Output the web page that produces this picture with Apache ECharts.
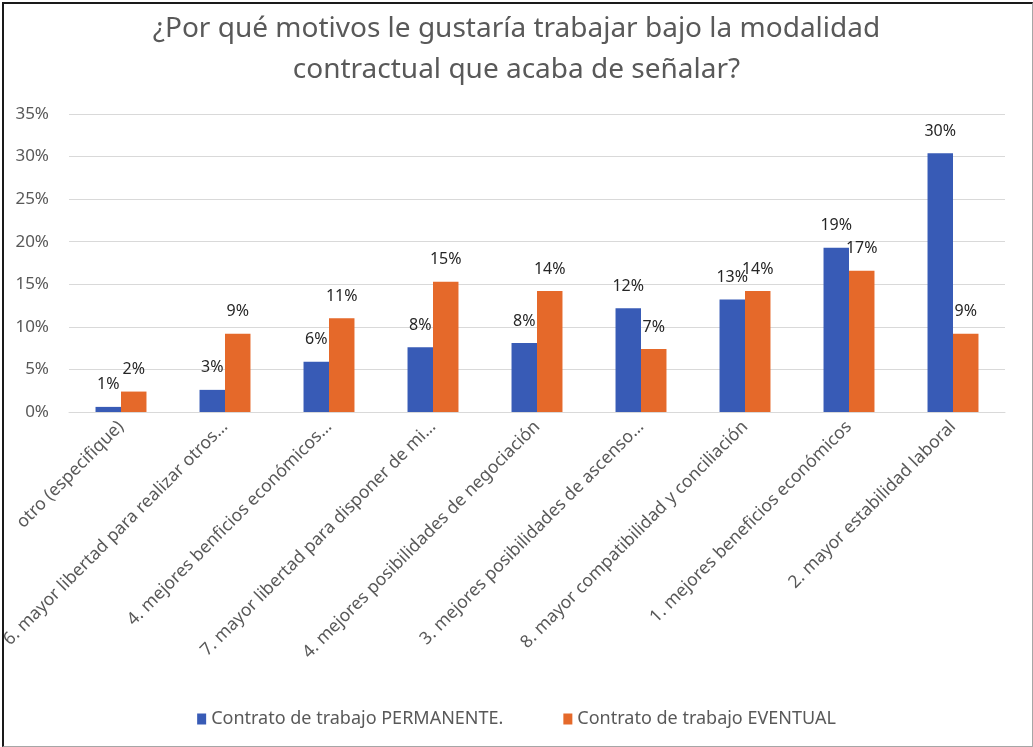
<!DOCTYPE html>
<html>
<head>
<meta charset="utf-8">
<script src="https://cdn.jsdelivr.net/npm/echarts@6/dist/echarts.min.js"></script>
<style>
  html, body { margin: 0; padding: 0; background: #fff; }
  #chart { width: 1033px; height: 747px; }
  .frame {
    position: absolute; left: 2px; top: 2px; width: 1028px; height: 742px;
    border-left: 2px solid #1a1a1a; border-top: 2px solid #1a1a1a;
    border-right: 1px solid #a6a6a6; border-bottom: 1px solid #a6a6a6;
    pointer-events: none;
  }
</style>
</head>
<body>
<div id="chart"></div>
<div class="frame"></div>
<script>
// categorias del eje x
var categorias = [
  'otro (especifique)',
  '6. mayor libertad para realizar otros…',
  '4. mejores benficios económicos…',
  '7. mayor libertad para disponer de mi…',
  '4. mejores posibilidades de negociación',
  '3. mejores posibilidades de ascenso…',
  '8. mayor compatibilidad y conciliación',
  '1. mejores beneficios económicos',
  '2. mayor estabilidad laboral'
];
var permanente = [0.006, 0.026, 0.059, 0.076, 0.081, 0.122, 0.132, 0.193, 0.304];
var eventual   = [0.024, 0.092, 0.110, 0.153, 0.142, 0.074, 0.142, 0.166, 0.092];
var nombres = ['Contrato de trabajo PERMANENTE.', 'Contrato de trabajo EVENTUAL'];

var fuente = "'Noto Sans', sans-serif";
var gris = '#595959';

var myChart = echarts.init(document.getElementById('chart'));

function pct(v) { return Math.round(v * 100) + '%'; }

var etiqueta = {
  show: true,
  position: 'top',
  distance: 14,
  color: '#262626',
  fontSize: 16,
  fontFamily: fuente,
  formatter: function (p) { return pct(p.value); }
};

myChart.setOption({
  animation: false,
  title: {
    text: '¿Por qué motivos le gustaría trabajar bajo la modalidad\ncontractual que acaba de señalar?',
    left: 'center',
    top: 4,
    textStyle: {
      fontFamily: fuente,
      fontSize: 28,
      fontWeight: 'normal',
      color: gris,
      lineHeight: 41
    }
  },
  legend: {
    data: nombres,
    bottom: 14,
    left: 'center',
    itemWidth: 9,
    itemHeight: 11,
    itemGap: 60,
    icon: 'rect',
    textStyle: { fontFamily: fuente, fontSize: 18, color: gris }
  },
  grid: { left: 69, right: 28, top: 114, bottom: 335, outerBoundsMode: 'none' },
  xAxis: {
    type: 'category',
    data: categorias,
    axisTick: { show: false },
    axisLine: { lineStyle: { color: '#d9d9d9' } },
    axisLabel: {
      rotate: 45,
      interval: 0,
      margin: 12,
      fontFamily: fuente,
      fontSize: 17.5,
      color: gris
    }
  },
  yAxis: {
    type: 'value',
    min: 0,
    max: 0.35,
    interval: 0.05,
    axisLine: { show: false },
    axisTick: { show: false },
    splitLine: { lineStyle: { color: '#d9d9d9' } },
    axisLabel: {
      margin: 20,
      fontFamily: fuente,
      fontSize: 17,
      color: gris,
      formatter: function (v) { return pct(v); }
    }
  },
  series: [
    {
      name: nombres[0],
      type: 'bar',
      data: permanente,
      barGap: '0%',
      barCategoryGap: '51%',
      itemStyle: { color: '#385bb6' },
      label: etiqueta
    },
    {
      name: nombres[1],
      type: 'bar',
      data: eventual,
      itemStyle: { color: '#e5692a' },
      label: etiqueta
    }
  ]
});
</script>
</body>
</html>
